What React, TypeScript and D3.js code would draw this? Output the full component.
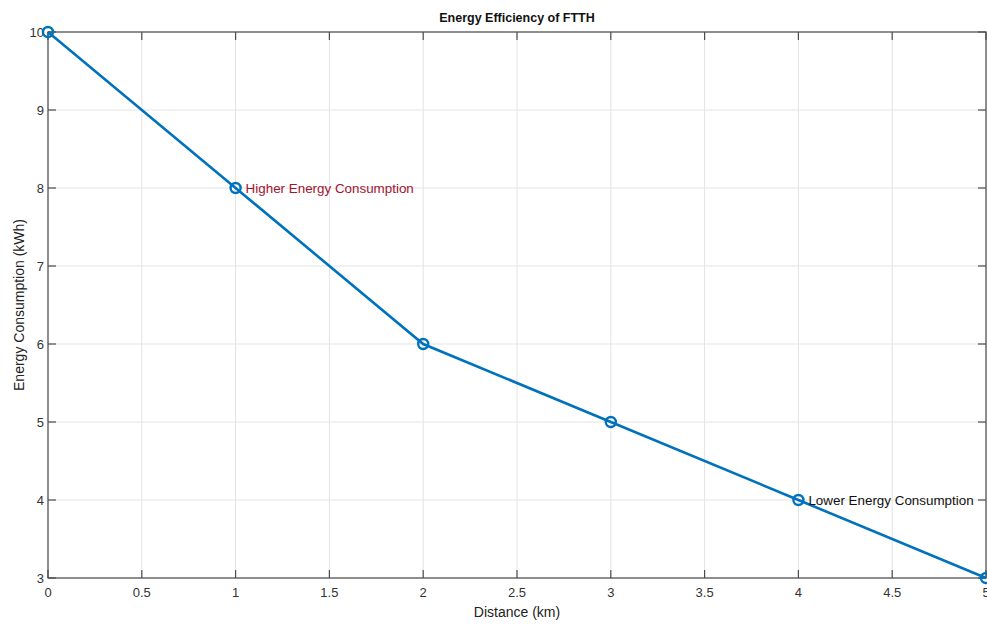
import React from "react";
import * as d3 from "d3";

const distances = [0, 1, 2, 3, 4, 5];
const consumption = [10, 8, 6, 5, 4, 3];
const xTicks = [0, 0.5, 1, 1.5, 2, 2.5, 3, 3.5, 4, 4.5, 5];
const yTicks = [3, 4, 5, 6, 7, 8, 9, 10];
const annotations = [
  { x: 1, y: 8, text: "Higher Energy Consumption", color: "#A2142F" },
  { x: 4, y: 4, text: "Lower Energy Consumption", color: "#111111" },
];

const W = 987;
const H = 624;
const M = { left: 48, right: 1, top: 32, bottom: 46 };

export default function App() {
  const x = d3.scaleLinear().domain([0, 5]).range([M.left, W - M.right]);
  const y = d3.scaleLinear().domain([3, 10]).range([H - M.bottom, M.top]);
  const pts: [number, number][] = distances.map((d, i) => [d, consumption[i]]);
  const line = d3
    .line<[number, number]>()
    .x((d) => x(d[0]))
    .y((d) => y(d[1]));
  const x0 = x(0), x1 = x(5), y0 = y(3), y1 = y(10);
  const font = "'Liberation Sans', Arial, Helvetica, sans-serif";
  const axisColor = "#4d4d4d";
  const tl = 8;
  return (
    <div style={{ position: "fixed", left: 0, top: 0 }}>
      <svg width={W} height={H} style={{ display: "block", background: "#fff" }} fontFamily={font}>
        {/* grid */}
        {xTicks.map((t) => (
          <line key={"gx" + t} x1={x(t)} x2={x(t)} y1={y1} y2={y0} stroke="#e3e3e3" strokeWidth={1} />
        ))}
        {yTicks.map((t) => (
          <line key={"gy" + t} x1={x0} x2={x1} y1={y(t)} y2={y(t)} stroke="#e3e3e3" strokeWidth={1} />
        ))}
        {/* box */}
        <rect x={x0} y={y1} width={x1 - x0} height={y0 - y1} fill="none" stroke={axisColor} strokeWidth={1.2} />
        {/* ticks */}
        {xTicks.map((t) => (
          <g key={"tx" + t}>
            <line x1={x(t)} x2={x(t)} y1={y0} y2={y0 - tl} stroke={axisColor} strokeWidth={1.2} />
            <line x1={x(t)} x2={x(t)} y1={y1} y2={y1 + tl} stroke={axisColor} strokeWidth={1.2} />
            <text x={x(t)} y={y0 + 19} textAnchor="middle" fontSize={13} fill="#333">
              {String(t)}
            </text>
          </g>
        ))}
        {yTicks.map((t) => (
          <g key={"ty" + t}>
            <line x1={x0} x2={x0 + tl} y1={y(t)} y2={y(t)} stroke={axisColor} strokeWidth={1.2} />
            <line x1={x1} x2={x1 - tl} y1={y(t)} y2={y(t)} stroke={axisColor} strokeWidth={1.2} />
            <text x={x0 - 4} y={y(t)} dy="0.35em" textAnchor="end" fontSize={13} fill="#333">
              {String(t)}
            </text>
          </g>
        ))}
        {/* data */}
        <path d={line(pts) || ""} fill="none" stroke="#0072BD" strokeWidth={2.6} />
        {pts.map((p, i) => (
          <circle key={"m" + i} cx={x(p[0])} cy={y(p[1])} r={5} fill="none" stroke="#0072BD" strokeWidth={2.4} />
        ))}
        {annotations.map((a) => (
          <text key={a.text} x={x(a.x) + 10} y={y(a.y)} dy="0.35em" fontSize={13.4} fill={a.color}>
            {a.text}
          </text>
        ))}
        {/* labels */}
        <text x={(x0 + x1) / 2} y={22} textAnchor="middle" fontSize={12.5} fontWeight="bold" fill="#111">
          Energy Efficiency of FTTH
        </text>
        <text x={(x0 + x1) / 2} y={617} textAnchor="middle" fontSize={14} fill="#222">
          Distance (km)
        </text>
        <text
          transform={`translate(24,${(y0 + y1) / 2}) rotate(-90)`}
          textAnchor="middle"
          fontSize={14}
          fill="#222"
        >
          Energy Consumption (kWh)
        </text>
      </svg>
    </div>
  );
}
